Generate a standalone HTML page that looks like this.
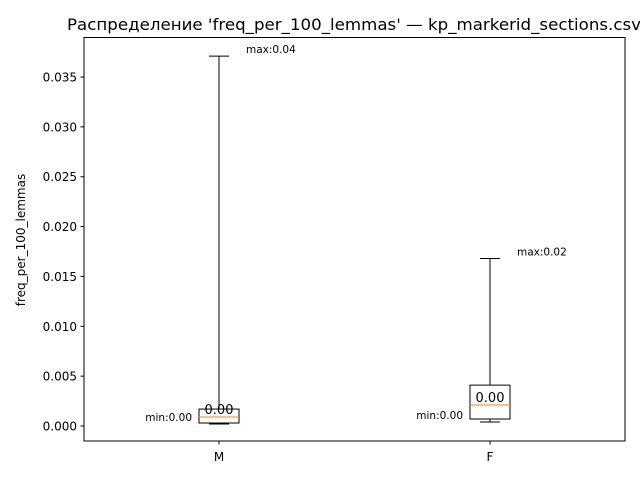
<!DOCTYPE html>
<html><head><meta charset="utf-8"><style>body{margin:0;background:#fff;overflow:hidden}svg{display:block;font-family:"DejaVu Sans","Liberation Sans",sans-serif}</style></head>
<body>
<svg id="chart" width="640" height="480" xmlns="http://www.w3.org/2000/svg">
<text x="67" y="30" font-size="16" textLength="574" lengthAdjust="spacingAndGlyphs">Распределение 'freq_per_100_lemmas' — kp_markerid_sections.csv</text>
<rect x="84" y="37.5" width="541" height="403.5" fill="none" stroke="#000" stroke-width="1"/>
<text transform="translate(25,240) rotate(-90)" font-size="12" text-anchor="middle">freq_per_100_lemmas</text>
<g id="yticks"></g><g id="boxes"></g>
</svg>
<script>
const categories = ['M','F'];
const mins = [0.0002, 0.0004];
const q1s = [0.0003, 0.0007];
const medians = [0.0009, 0.0021];
const q3s = [0.0017, 0.0041];
const maxs = [0.0371, 0.0168];
const yTicks = [0,0.005,0.01,0.015,0.02,0.025,0.03,0.035];
const NS='http://www.w3.org/2000/svg';
const svg=document.getElementById('chart');
const y=v=>426-v*9971;
const x=i=>219+i*271;
function mk(tag,attrs,parent){const e=document.createElementNS(NS,tag);for(const k in attrs)e.setAttribute(k,attrs[k]);(parent||svg).appendChild(e);return e;}
const yt=document.getElementById('yticks');
yTicks.forEach(t=>{
 const l=mk('line',{x1:80.5,x2:84,y1:y(t),y2:y(t),stroke:'#000'},yt);
 
 
 const tx=mk('text',{x:77,y:y(t)+4.5,'font-size':12,'text-anchor':'end'},yt);
 tx.textContent=t.toFixed(3);
 
 
});
const bg=document.getElementById('boxes');
categories.forEach((c,i)=>{
 const cx=x(i);
 const g=mk('g',{},bg);
 
 
 mk('line',{x1:cx,x2:cx,y1:y(q3s[i]),y2:y(maxs[i]),stroke:'#000'},g);
 mk('line',{x1:cx,x2:cx,y1:y(q1s[i]),y2:y(mins[i]),stroke:'#000'},g);
 mk('line',{x1:cx-10,x2:cx+10,y1:y(maxs[i]),y2:y(maxs[i]),stroke:'#000'},g);
 mk('line',{x1:cx-10,x2:cx+10,y1:y(mins[i]),y2:y(mins[i]),stroke:'#000'},g);
 mk('rect',{x:cx-20,y:y(q3s[i]),width:40,height:y(q1s[i])-y(q3s[i]),fill:'none',stroke:'#000'},g);
 mk('line',{x1:cx-20,x2:cx+20,y1:y(medians[i]),y2:y(medians[i]),stroke:'#ff7f0e'},g);
 const mt=mk('text',{x:cx,y:y(medians[i])-3,'font-size':13,'text-anchor':'middle'},g);
 mt.textContent=medians[i].toFixed(2);
 
 
 const mn=mk('text',{x:cx-27,y:y(mins[i])-3,'font-size':10.5,'text-anchor':'end'},g);
 mn.textContent='min:'+mins[i].toFixed(2);
 
 
 const mx=mk('text',{x:cx+27,y:y(maxs[i])-3,'font-size':10.5},g);
 mx.textContent='max:'+maxs[i].toFixed(2);
 
 
 const tk=mk('line',{x1:cx,x2:cx,y1:441,y2:444.5,stroke:'#000'},g);
 
 
 const xl=mk('text',{x:cx,y:461,'font-size':12,'text-anchor':'middle'},g);
 xl.textContent=c;
 
 
});
</script>
</body></html>
